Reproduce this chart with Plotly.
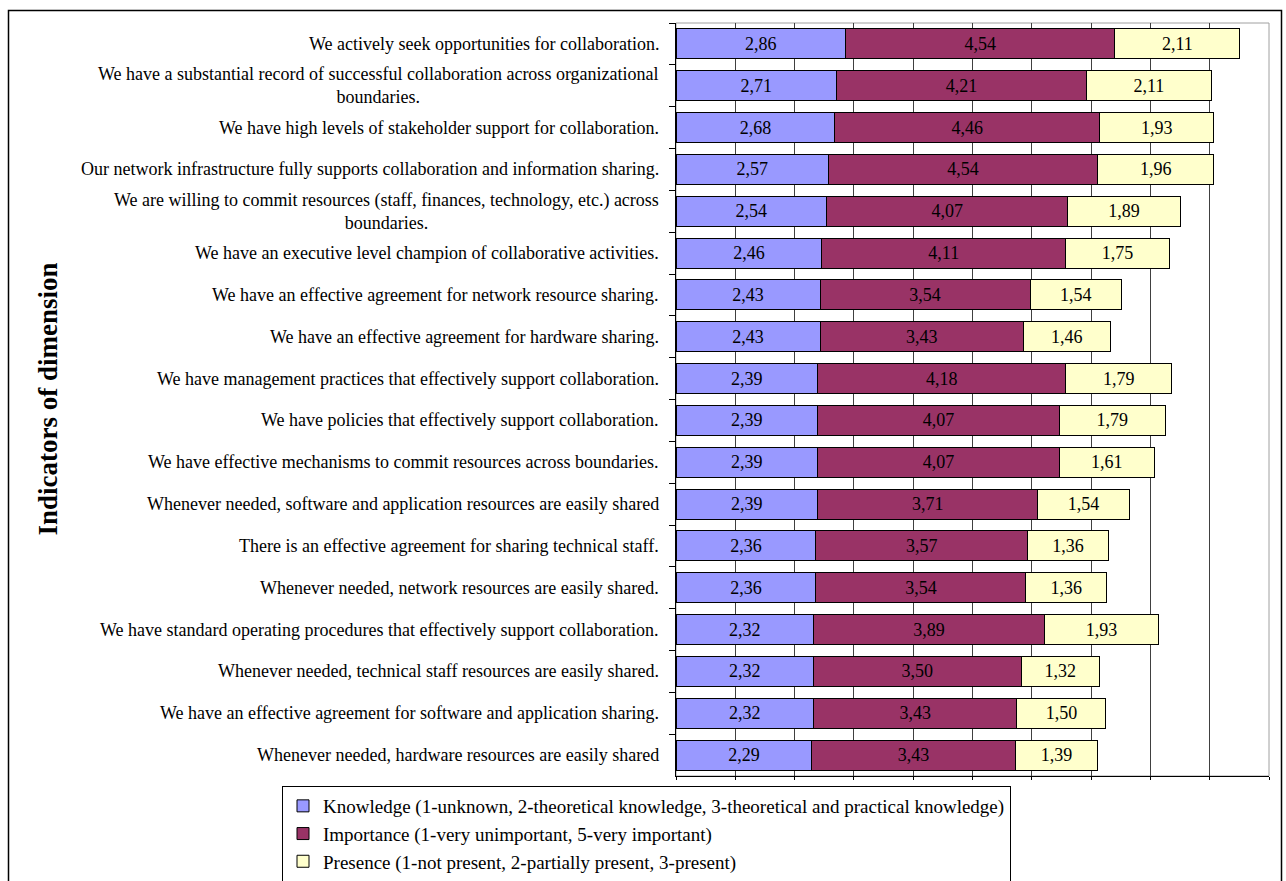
import plotly.graph_objects as go

categories = [
    "We actively seek opportunities for collaboration.",
    "We have a substantial record of successful collaboration across organizational<br>boundaries.",
    "We have high levels of stakeholder support for collaboration.",
    "Our network infrastructure fully supports collaboration and information sharing.",
    "We are willing to commit resources (staff, finances, technology, etc.) across<br>boundaries.",
    "We have an executive level champion of collaborative activities.",
    "We have an effective agreement for network resource sharing.",
    "We have an effective agreement for hardware sharing.",
    "We have management practices that effectively support collaboration.",
    "We have policies that effectively support collaboration.",
    "We have effective mechanisms to commit resources across boundaries.",
    "Whenever needed, software and application resources are easily shared",
    "There is an effective agreement for sharing technical staff.",
    "Whenever needed, network resources are easily shared.",
    "We have standard operating procedures that effectively support collaboration.",
    "Whenever needed, technical staff resources are easily shared.",
    "We have an effective agreement for software and application sharing.",
    "Whenever needed, hardware resources are easily shared",
]
knowledge = [2.86, 2.71, 2.68, 2.57, 2.54, 2.46, 2.43, 2.43, 2.39, 2.39, 2.39, 2.39, 2.36, 2.36, 2.32, 2.32, 2.32, 2.29]
importance = [4.54, 4.21, 4.46, 4.54, 4.07, 4.11, 3.54, 3.43, 4.18, 4.07, 4.07, 3.71, 3.57, 3.54, 3.89, 3.50, 3.43, 3.43]
presence = [2.11, 2.11, 1.93, 1.96, 1.89, 1.75, 1.54, 1.46, 1.79, 1.79, 1.61, 1.54, 1.36, 1.36, 1.93, 1.32, 1.50, 1.39]

series_names = [
    "Knowledge (1-unknown, 2-theoretical knowledge, 3-theoretical and practical knowledge)",
    "Importance (1-very unimportant, 5-very important)",
    "Presence (1-not present, 2-partially present, 3-present)",
]
colors = ["#9999FF", "#993366", "#FFFFCC"]

FONT = "Liberation Serif, Times New Roman, serif"
W, H = 1286, 881
L, R, T, B = 676, 1269, 23, 776
pw, ph = R - L, B - T

def px_x(x):
    return (x - L) / pw

def px_y(y):
    return (B - y) / ph

fig = go.Figure()
for name, vals, col in zip(series_names, [knowledge, importance, presence], colors):
    fig.add_trace(go.Bar(
        y=categories, x=vals, orientation="h", name=name,
        marker=dict(color=col, line=dict(color="#000000", width=1)),
        text=[f"{v:.2f}".replace(".", ",") for v in vals],
        textposition="inside", insidetextanchor="middle", textangle=0,
        textfont=dict(family=FONT, size=18, color="#000000"),
        legendgroup=name,
    ))

# category labels as annotations (centered multi-line, right anchored)
for c in categories:
    fig.add_annotation(
        x=px_x(661), xref="paper", y=c, yref="y", text=c,
        xanchor="right", yanchor="middle", align="center", showarrow=False,
        font=dict(family=FONT, size=18, color="#000000"),
    )

# y-axis title
fig.add_annotation(
    x=px_x(47), xref="paper", y=0.5, yref="paper", text="<b>Indicators of dimension</b>",
    textangle=-90, showarrow=False, xanchor="center", yanchor="middle",
    font=dict(family=FONT, size=27, color="#000000"),
)

# plot-area border and outer chart frame
fig.add_shape(type="rect", xref="paper", yref="paper", x0=0, x1=1, y0=0, y1=1,
              line=dict(color="#A0A0A0", width=1), layer="below")
fig.add_shape(type="rect", xref="paper", yref="paper",
              x0=px_x(8.5), x1=px_x(1281.5), y0=px_y(900), y1=px_y(10.5),
              line=dict(color="#000000", width=1.5))

fig.update_layout(
    width=W, height=H,
    margin=dict(l=L, r=W - R, t=T, b=H - B, pad=0, autoexpand=False),
    barmode="stack", bargap=0.28,
    plot_bgcolor="#FFFFFF", paper_bgcolor="#FFFFFF",
    font=dict(family=FONT, size=18, color="#000000"),
    showlegend=True,
    legend=dict(
        x=px_x(282), y=px_y(786), xanchor="left", yanchor="top",
        bordercolor="#000000", borderwidth=1, bgcolor="#FFFFFF",
        font=dict(family=FONT, size=19, color="#000000"),
        tracegroupgap=3, traceorder="normal",
    ),
    xaxis=dict(
        range=[0, 10], dtick=1, showgrid=True, gridcolor="#404040", gridwidth=1,
        showticklabels=False, ticks="outside", ticklen=3, tickcolor="#000000",
        showline=True, linecolor="#000000", linewidth=1, zeroline=False, fixedrange=True,
    ),
    yaxis=dict(
        autorange="reversed", type="category", showticklabels=False,
        ticks="outside", tickson="boundaries", ticklen=6, tickcolor="#000000",
        showline=True, linecolor="#000000", linewidth=1, showgrid=False, fixedrange=True,
    ),
)

fig.write_html("out.html")
